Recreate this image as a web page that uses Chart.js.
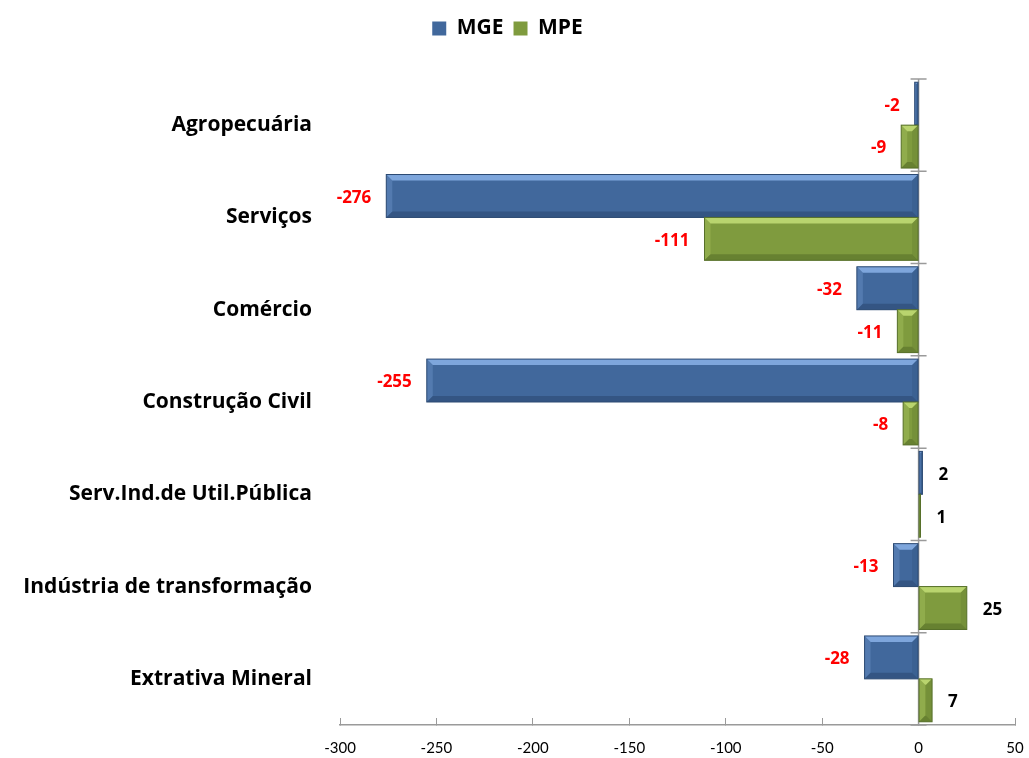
<!DOCTYPE html>
<html>
<head>
<meta charset="utf-8">
<script src="https://cdn.jsdelivr.net/npm/chart.js@4/dist/chart.umd.min.js"></script>
<style>
  body { margin: 0; background: #fff; }
</style>
</head>
<body>
<canvas id="chart" width="1029" height="758"></canvas>
<script>
const categories = [
  'Agropecuária',
  'Serviços',
  'Comércio',
  'Construção Civil',
  'Serv.Ind.de Util.Pública',
  'Indústria de transformação',
  'Extrativa Mineral'
];
const mgeValues = [-2, -276, -32, -255, 2, -13, -28];
const mpeValues = [-9, -111, -11, -8, 1, 25, 7];

const FONT = '"Open Sans", Lato, sans-serif';
const TICK_FONT = 'Lato, "Open Sans", sans-serif';

const palette = {
  MGE: { base: '#41689c', light: '#7ea6dc', dark: '#2c4a73' },
  MPE: { base: '#7f9b3e', light: '#b9d46e', dark: '#57702a' }
};

// more room between the legend and the plot
const legendGap = {
  id: 'legendGap',
  beforeInit(chart) {
    const fit = chart.legend.fit;
    chart.legend.fit = function () {
      fit.bind(chart.legend)();
      this.height += 30;
    };
  }
};

// bevel look of the bars and value labels next to them
const barDecor = {
  id: 'barDecor',
  afterDatasetsDraw(chart) {
    const ctx = chart.ctx;
    chart.data.datasets.forEach((ds, di) => {
      const meta = chart.getDatasetMeta(di);
      const col = palette[ds.label];
      meta.data.forEach((bar, i) => {
        const left = Math.min(bar.x, bar.base);
        const right = Math.max(bar.x, bar.base);
        const top = bar.y - bar.height / 2;
        const bottom = bar.y + bar.height / 2;
        const w = right - left;
        const b = Math.min(6, w / 2, bar.height / 2);
        ctx.save();
        if (w > 2) {
          // top bevel
          ctx.fillStyle = col.light;
          ctx.beginPath();
          ctx.moveTo(left, top); ctx.lineTo(right, top);
          ctx.lineTo(right - b, top + b); ctx.lineTo(left + b, top + b);
          ctx.closePath(); ctx.fill();
          // left bevel
          ctx.globalAlpha = 0.3;
          ctx.beginPath();
          ctx.moveTo(left, top); ctx.lineTo(left + b, top + b);
          ctx.lineTo(left + b, bottom - b); ctx.lineTo(left, bottom);
          ctx.closePath(); ctx.fill();
          // bottom + right bevel
          ctx.globalAlpha = 0.6;
          ctx.fillStyle = col.dark;
          ctx.beginPath();
          ctx.moveTo(left, bottom); ctx.lineTo(right, bottom);
          ctx.lineTo(right - b, bottom - b); ctx.lineTo(left + b, bottom - b);
          ctx.closePath(); ctx.fill();
          ctx.globalAlpha = 0.25;
          ctx.beginPath();
          ctx.moveTo(right, top); ctx.lineTo(right, bottom);
          ctx.lineTo(right - b, bottom - b); ctx.lineTo(right - b, top + b);
          ctx.closePath(); ctx.fill();
          ctx.globalAlpha = 1;
        }
        ctx.strokeStyle = col.dark;
        ctx.lineWidth = 1;
        ctx.strokeRect(left, top, w, bottom - top);
        ctx.restore();

        // value label
        const v = ds.data[i];
        ctx.save();
        ctx.font = 'bold 17px ' + FONT;
        ctx.textBaseline = 'middle';
        if (v < 0) {
          ctx.fillStyle = '#ff0000';
          ctx.textAlign = 'right';
          ctx.fillText(String(v), bar.x - 15, bar.y + 2);
        } else {
          ctx.fillStyle = '#000000';
          ctx.textAlign = 'left';
          ctx.fillText(String(v), bar.x + 16, bar.y + 2);
        }
        ctx.restore();
      });
    });
  }
};

// vertical axis through zero with tick marks between categories
const zeroAxis = {
  id: 'zeroAxis',
  beforeDatasetsDraw(chart) {
    const ctx = chart.ctx;
    const x = chart.scales.x.getPixelForValue(0);
    const ys = chart.scales.y;
    ctx.save();
    ctx.strokeStyle = '#9a9a9a';
    ctx.lineWidth = 1.5;
    ctx.beginPath();
    ctx.moveTo(x, chart.chartArea.top);
    ctx.lineTo(x, chart.chartArea.bottom);
    for (let i = 0; i <= categories.length; i++) {
      const y = ys.getPixelForValue(i - 0.5);
      ctx.moveTo(x - 8, y);
      ctx.lineTo(x + 8, y);
    }
    ctx.stroke();
    ctx.restore();
  }
};

new Chart(document.getElementById('chart'), {
  type: 'bar',
  data: {
    labels: categories,
    datasets: [
      {
        label: 'MGE',
        data: mgeValues,
        backgroundColor: palette.MGE.base,
        borderWidth: 0,
        categoryPercentage: 0.93,
        barPercentage: 1
      },
      {
        label: 'MPE',
        data: mpeValues,
        backgroundColor: palette.MPE.base,
        borderWidth: 0,
        categoryPercentage: 0.93,
        barPercentage: 1
      }
    ]
  },
  options: {
    indexAxis: 'y',
    responsive: false,
    animation: false,
    layout: { padding: { top: 8, right: 14, bottom: 1, left: 0 } },
    plugins: {
      legend: {
        position: 'top',
        labels: {
          font: { family: FONT, size: 21, weight: 'bold' },
          color: '#000',
          boxWidth: 14,
          boxHeight: 14,
          padding: 10
        }
      },
      tooltip: { enabled: false }
    },
    scales: {
      x: {
        min: -300,
        max: 50,
        afterFit(scale) {
          scale.height = 32;
          scale.paddingLeft = 0;
          scale.paddingRight = 0;
        },
        ticks: {
          stepSize: 50,
          color: '#000',
          font: { family: TICK_FONT, size: 15 },
          padding: 21
        },
        grid: {
          drawOnChartArea: false,
          tickLength: -7,
          color: '#9a9a9a'
        },
        border: { display: true, color: '#9a9a9a', width: 1.5 }
      },
      y: {
        afterFit(scale) {
          scale.width = 340;
          scale.paddingTop = 0;
          scale.paddingBottom = 0;
        },
        ticks: {
          color: '#000',
          font: { family: FONT, size: 21, weight: 'bold' },
          padding: 20
        },
        grid: { display: false },
        border: { display: false }
      }
    }
  },
  plugins: [legendGap, zeroAxis, barDecor]
});
</script>
</body>
</html>
